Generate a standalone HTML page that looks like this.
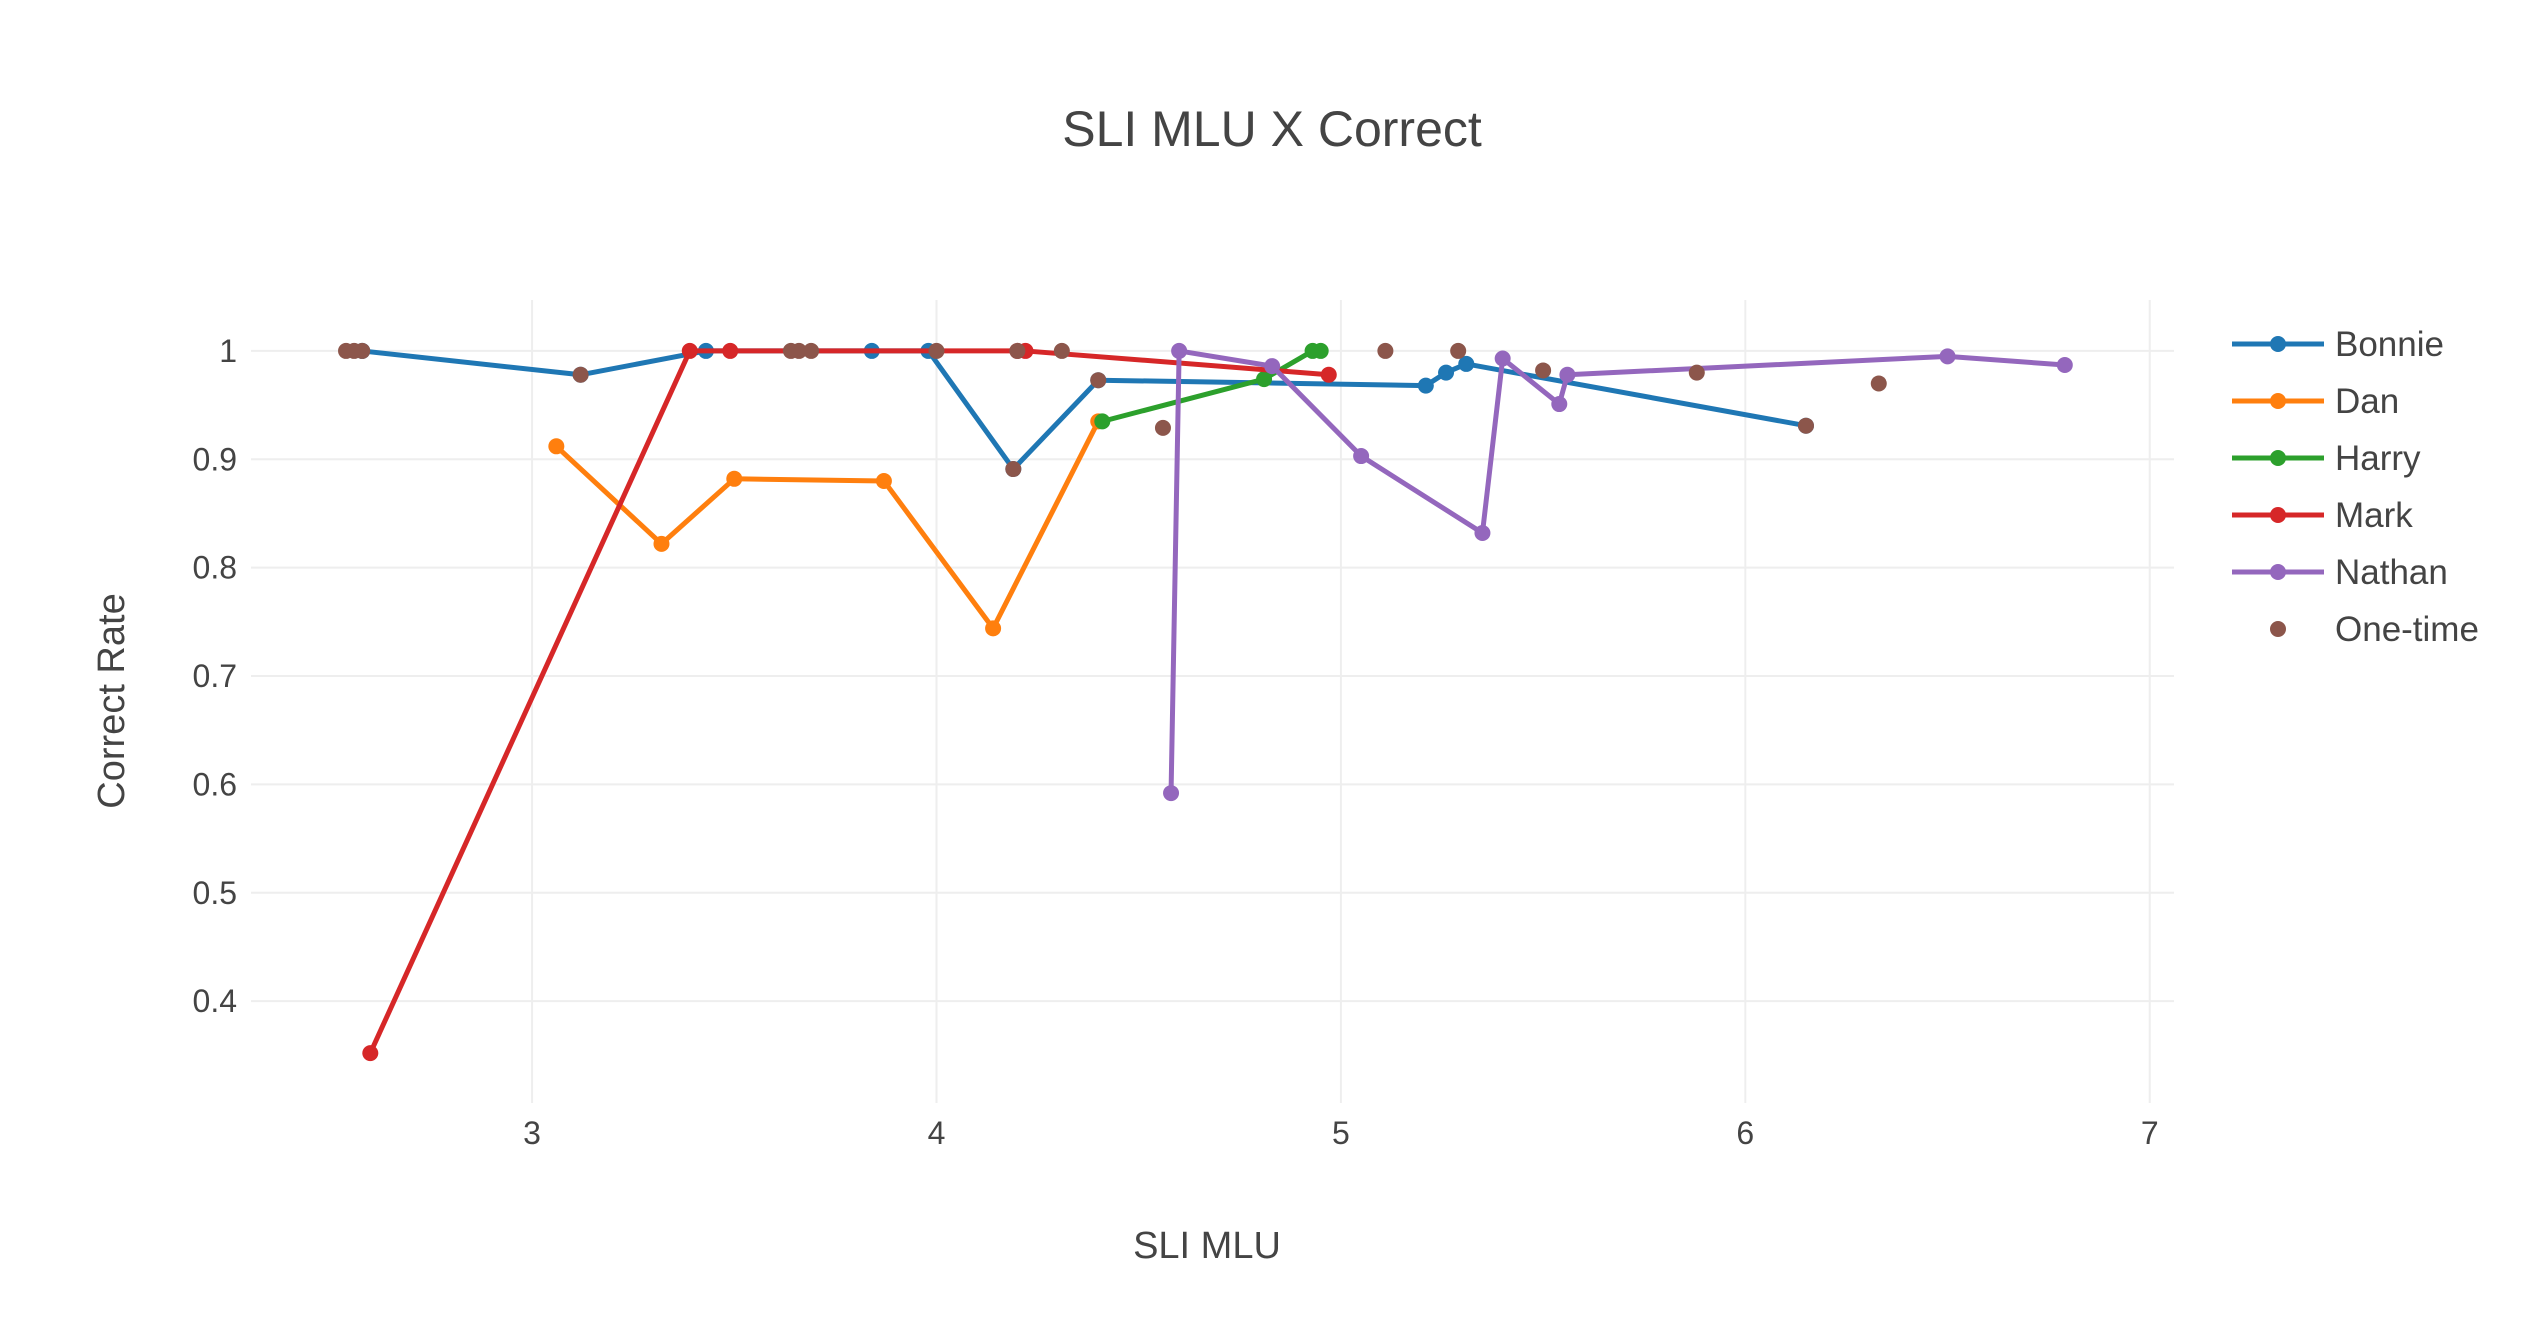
<!DOCTYPE html>
<html><head><meta charset="utf-8"><style>
html,body{margin:0;padding:0;background:#fff}
svg{display:block;font-family:"Liberation Sans",sans-serif}
</style></head><body>
<svg id="chart" width="2544" height="1344" xmlns="http://www.w3.org/2000/svg">
<text x="1272" y="146" text-anchor="middle" font-size="50" fill="#444">SLI MLU X Correct</text>
<g id="grid"></g>
<g id="series"></g>
<text x="1207" y="1258" text-anchor="middle" font-size="38" fill="#444">SLI MLU</text>
<text transform="translate(124,701) rotate(-90)" text-anchor="middle" font-size="38" fill="#444">Correct Rate</text>
<g id="legend"></g>
</svg>
<script>
const xTicks=[3,4,5,6,7];
const yTicks=[0.4,0.5,0.6,0.7,0.8,0.9,1];
const yTickLabels=["0.4","0.5","0.6","0.7","0.8","0.9","1"];
const seriesNames=["Bonnie","Dan","Harry","Mark","Nathan","One-time"];
const colors=["#1f77b4","#ff7f0e","#2ca02c","#d62728","#9467bd","#8c564b"];
const bonnieX=[2.58,3.12,3.43,3.84,3.98,4.19,4.40,5.21,5.26,5.31,6.15];
const bonnieY=[1.0,0.978,1.0,1.0,1.0,0.891,0.973,0.968,0.98,0.988,0.931];
const danX=[3.06,3.32,3.50,3.87,4.14,4.40];
const danY=[0.912,0.822,0.882,0.880,0.744,0.935];
const harryX=[4.41,4.81,4.93,4.95];
const harryY=[0.935,0.974,1.0,1.0];
const markX=[2.60,3.39,3.49,4.20,4.22,4.97];
const markY=[0.352,1.0,1.0,1.0,1.0,0.978];
const nathanX=[4.58,4.60,4.83,5.05,5.35,5.40,5.54,5.56,6.50,6.79];
const nathanY=[0.592,1.0,0.986,0.903,0.832,0.993,0.951,0.978,0.995,0.987];
const oneX=[2.54,2.56,2.58,3.12,3.64,3.66,3.69,4.0,4.19,4.20,4.31,4.40,4.56,5.11,5.29,5.50,5.88,6.15,6.33];
const oneY=[1,1,1,0.978,1,1,1,1,0.891,1,1,0.973,0.929,1,1,0.982,0.98,0.931,0.97];

const NS="http://www.w3.org/2000/svg";
const L=251,R=2174,T=300,B=1103;
const xMin=2.305,xMax=7.06,yMin=0.306,yMax=1.047;
const xs=v=>L+(v-xMin)/(xMax-xMin)*(R-L);
const ys=v=>B-(v-yMin)/(yMax-yMin)*(B-T);
function mk(tag,attrs,parent){const e=document.createElementNS(NS,tag);for(const k in attrs)e.setAttribute(k,attrs[k]);parent.appendChild(e);return e;}
const grid=document.getElementById('grid');
xTicks.forEach(t=>{
  const l=mk('line',{x1:xs(t),x2:xs(t),y1:T,y2:B,stroke:'#eee','stroke-width':2},grid);
  
  
  const tx=mk('text',{x:xs(t),y:1144,'text-anchor':'middle','font-size':32,fill:'#444'},grid);
  tx.textContent=t;
  
  
});
yTicks.forEach((t,i)=>{
  const l=mk('line',{x1:L,x2:R,y1:ys(t),y2:ys(t),stroke:'#eee','stroke-width':2},grid);
  
  
  const tx=mk('text',{x:237,y:ys(t)+11,'text-anchor':'end','font-size':32,fill:'#444'},grid);
  tx.textContent=yTickLabels[i];
  
  
});
const sg=document.getElementById('series');
const allX=[bonnieX,danX,harryX,markX,nathanX,oneX];
const allY=[bonnieY,danY,harryY,markY,nathanY,oneY];
allX.forEach((X,si)=>{
  const g=mk('g',{},sg);
  
  
  if(si<5){
    const p=mk('polyline',{points:X.map((x,i)=>xs(x)+','+ys(allY[si][i])).join(' '),fill:'none',stroke:colors[si],'stroke-width':5,'stroke-linejoin':'round'},g);
    
    
  }
  X.forEach((x,i)=>{
    const c=mk('circle',{cx:xs(x),cy:ys(allY[si][i]),r:8,fill:colors[si]},g);
    
    
  });
});
const lg=document.getElementById('legend');
seriesNames.forEach((n,i)=>{
  const y=344+i*57;
  const g=mk('g',{},lg);
  
  
  if(i<5) mk('line',{x1:2232,x2:2324,y1:y,y2:y,stroke:colors[i],'stroke-width':5},g);
  mk('circle',{cx:2278,cy:y,r:8,fill:colors[i]},g);
  const t=mk('text',{x:2335,y:y+12,'font-size':35,fill:'#444'},g);
  t.textContent=n;
});
</script>
</body></html>
